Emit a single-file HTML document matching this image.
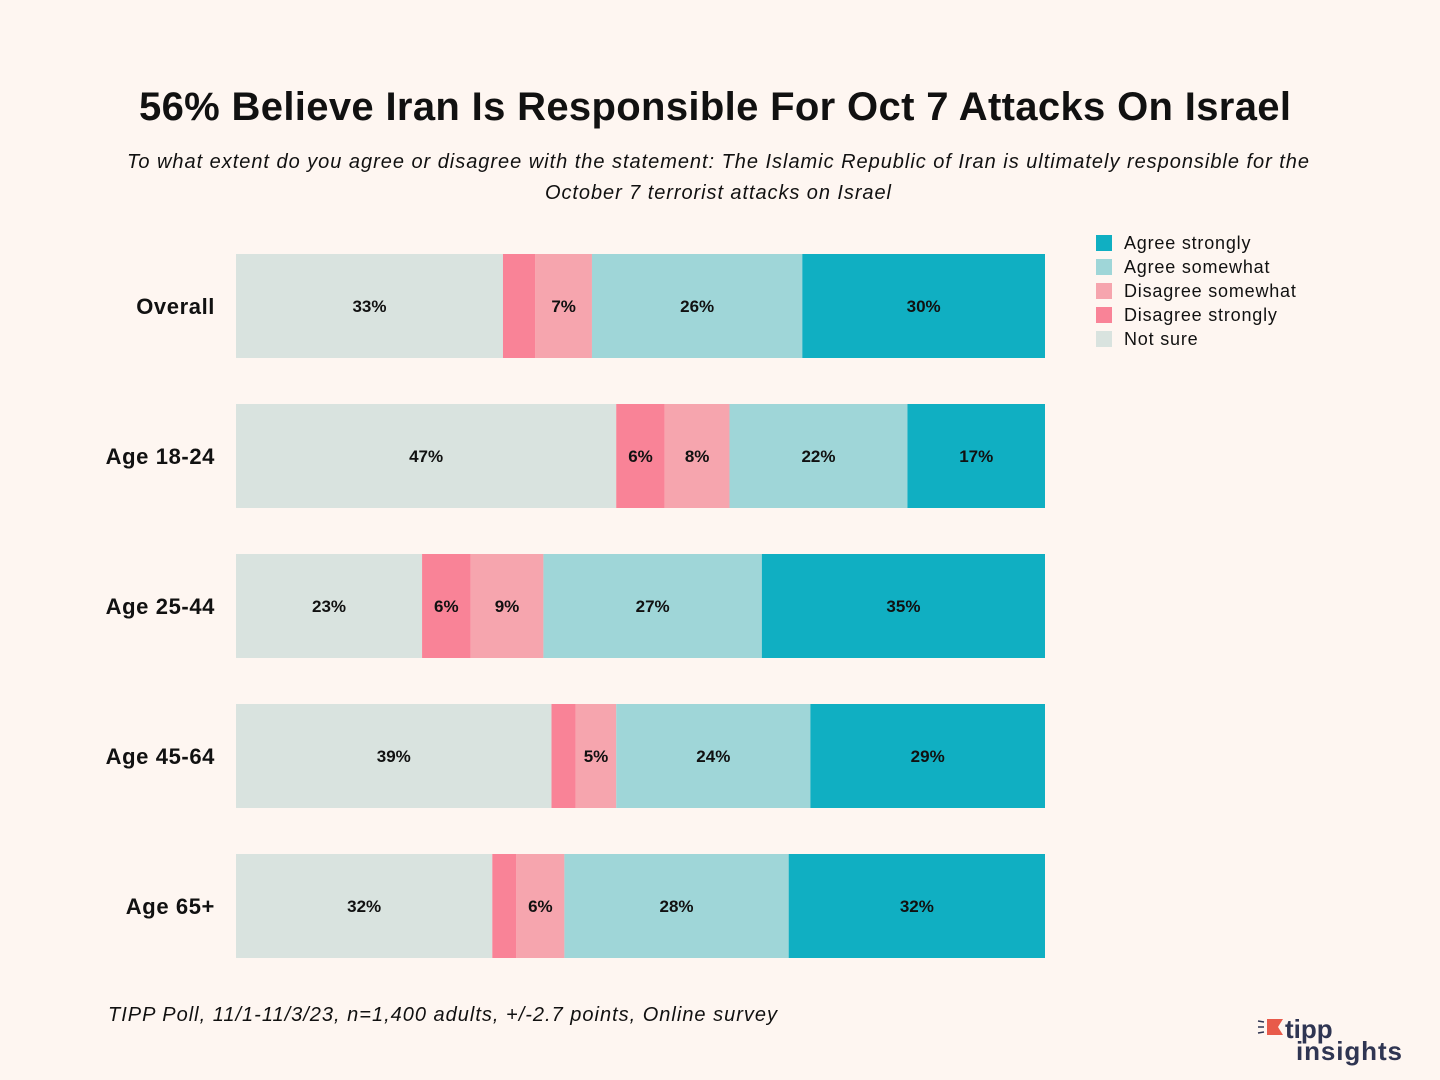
<!DOCTYPE html>
<html><head><meta charset="utf-8"><style>
body{margin:0;background:#fef6f1;}
svg{display:block;font-family:"Liberation Sans",sans-serif;}
</style></head><body>
<svg id="c" width="1440" height="1080">
<rect width="1440" height="1080" fill="#fef6f1"/>
<text x="715" y="120" text-anchor="middle" font-size="40" font-weight="bold" fill="#111" textLength="1152" lengthAdjust="spacing">56% Believe Iran Is Responsible For Oct 7 Attacks On Israel</text>
<text x="718" y="168" text-anchor="middle" font-size="20" font-style="italic" fill="#111" textLength="1182" lengthAdjust="spacing">To what extent do you agree or disagree with the statement: The Islamic Republic of Iran is ultimately responsible for the</text>
<text x="718" y="199" text-anchor="middle" font-size="20" font-style="italic" fill="#111" textLength="346" lengthAdjust="spacing">October 7 terrorist attacks on Israel</text>
<text x="108" y="1021" font-size="20" font-style="italic" fill="#111" textLength="669" lengthAdjust="spacing">TIPP Poll, 11/1-11/3/23, n=1,400 adults, +/-2.7 points, Online survey</text>
<g>
<path d="M1267 1019 h16 l-5 8 l5 8 h-16z" fill="#e85a4a"/>
<line x1="1258" y1="1021" x2="1264" y2="1022" stroke="#2f3552" stroke-width="1.5"/>
<line x1="1258" y1="1027" x2="1264" y2="1027" stroke="#2f3552" stroke-width="1.5"/>
<line x1="1258" y1="1033" x2="1264" y2="1032" stroke="#2f3552" stroke-width="1.5"/>
<text x="1285" y="1038" font-size="26" font-weight="bold" fill="#2f3552">tipp</text>
<text x="1296" y="1060" font-size="26" font-weight="bold" fill="#2f3552" textLength="106" lengthAdjust="spacing">insights</text>
</g>
<g id="bars"></g>
<g id="legend"></g>
</svg>
<script>
const categories=["Overall","Age 18-24","Age 25-44","Age 45-64","Age 65+"];
const seriesNames=["Not sure","Disagree strongly","Disagree somewhat","Agree somewhat","Agree strongly"];
const notSure=[33,47,23,39,32];
const disagreeStrongly=[4,6,6,3,3];
const disagreeSomewhat=[7,8,9,5,6];
const agreeSomewhat=[26,22,27,24,28];
const agreeStrongly=[30,17,35,29,32];
const colors=["#d9e3df","#f98397","#f6a5ae","#9fd6d8","#10afc2"];
const series=[notSure,disagreeStrongly,disagreeSomewhat,agreeSomewhat,agreeStrongly];
const NS="http://www.w3.org/2000/svg";
const x0=236,x1=1045,yTop=254,step=150,bh=104;
const g=document.getElementById('bars');
function el(t,a,p){const e=document.createElementNS(NS,t);for(const k in a)e.setAttribute(k,a[k]);p.appendChild(e);return e;}
categories.forEach((cat,i)=>{
  const y=yTop+i*step;
  const total=series.reduce((s,a)=>s+a[i],0);
  const sx=v=>v/total*(x1-x0);
  const lab=el('text',{x:215,y:y+bh/2+8,'text-anchor':'end','font-size':22,'font-weight':'bold',fill:'#111','letter-spacing':0.6},g);
  
  
  lab.textContent=cat;
  let acc=0;
  series.forEach((s,j)=>{
    const v=s[i];const x=x0+sx(acc);const w=sx(v);
    const r=el('rect',{x:x,y:y,width:w,height:bh,fill:colors[j]},g);
    
    
    if(v>=5){
      const t=el('text',{x:x+w/2,y:y+bh/2+6,'text-anchor':'middle','font-size':17,'font-weight':'bold',fill:'#111'},g);
      
      
      t.textContent=v+'%';
    }
    acc+=v;
  });
});
const lg=document.getElementById('legend');
[4,3,2,1,0].forEach((j,k)=>{
  const y=235+k*24;
  const r=el('rect',{x:1096,y:y,width:16,height:16,fill:colors[j]},lg);
  
  
  const t=el('text',{x:1124,y:y+14,'font-size':18,fill:'#111','letter-spacing':0.8},lg);
  
  
  t.textContent=seriesNames[j];
});
</script>
</body></html>
